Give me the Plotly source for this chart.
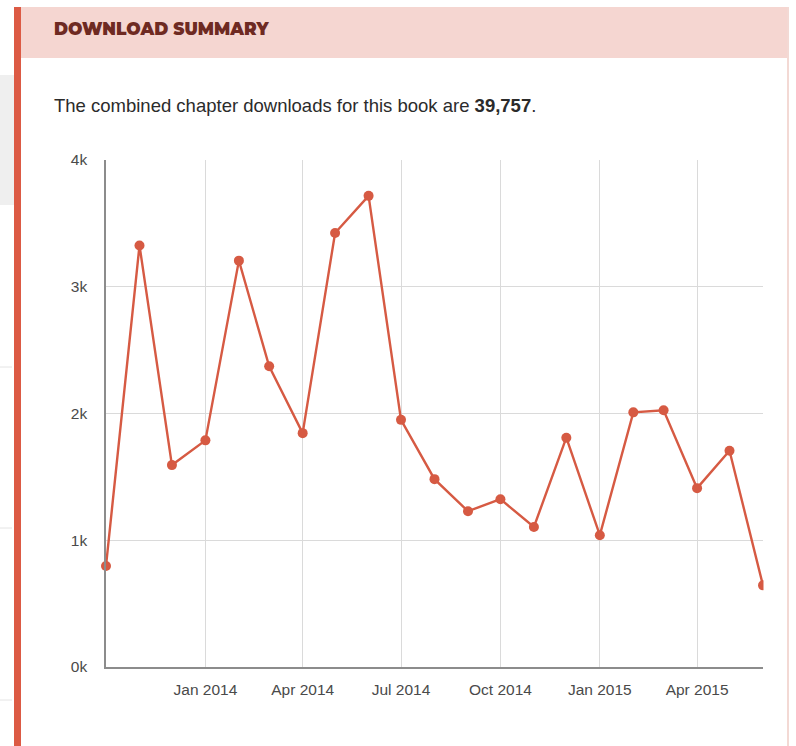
import plotly.graph_objects as go

# ---- data ----
months = ["2013-10-01", "2013-11-01", "2013-12-01", "2014-01-01", "2014-02-01", "2014-03-01",
          "2014-04-01", "2014-05-01", "2014-06-01", "2014-07-01", "2014-08-01", "2014-09-01",
          "2014-10-01", "2014-11-01", "2014-12-01", "2015-01-01", "2015-02-01", "2015-03-01",
          "2015-04-01", "2015-05-01", "2015-06-01"]
downloads = [797, 3326, 1593, 1788, 3206, 2373, 1845, 3424, 3717, 1950, 1482, 1229,
             1324, 1105, 1809, 1040, 2009, 2025, 1411, 1706, 644]
x_tick_vals = ["2014-01-01", "2014-04-01", "2014-07-01", "2014-10-01", "2015-01-01", "2015-04-01"]
x_tick_text = ["Jan 2014", "Apr 2014", "Jul 2014", "Oct 2014", "Jan 2015", "Apr 2015"]
y_tick_vals = [0, 1000, 2000, 3000, 4000]
y_tick_text = ["0k", "1k", "2k", "3k", "4k"]
header_title = "DOWNLOAD SUMMARY"
total_text = "The combined chapter downloads for this book are <b>39,757</b>."

W, H = 796, 746
L, R, T, B = 106, 763, 160, 667


def px(x):
    return (x - L) / (R - L)


def py(y):
    return (B - y) / (B - T)


LINE = "#d65a43"
FONT = "Liberation Sans, Arial, Helvetica, sans-serif"

fig = go.Figure()
fig.add_trace(go.Scatter(
    x=months, y=downloads, mode="lines+markers",
    line=dict(color=LINE, width=2.4),
    marker=dict(color=LINE, size=10),
    cliponaxis=False, hoverinfo="x+y", showlegend=False,
))

shapes = [
    # left grey page block
    dict(type="rect", xref="paper", yref="paper", x0=px(0), x1=px(14), y0=py(205), y1=py(75),
         fillcolor="#efefef", line_width=0, layer="below"),
    # faint left separators
    *[dict(type="line", xref="paper", yref="paper", x0=px(0), x1=px(12), y0=py(yy), y1=py(yy),
           line=dict(color="#e4e4e4", width=1), layer="below") for yy in (367, 528, 700)],
    # header band
    dict(type="rect", xref="paper", yref="paper", x0=px(21), x1=px(787), y0=py(58), y1=py(7),
         fillcolor="#f5d6d1", line_width=0, layer="below"),
    # red left border
    dict(type="rect", xref="paper", yref="paper", x0=px(14), x1=px(21), y0=py(746), y1=py(7),
         fillcolor="#dc5a44", line_width=0, layer="below"),
    # mask for clipped last marker
    dict(type="rect", xref="paper", yref="paper", x0=px(763.5), x1=px(786), y0=py(740), y1=py(150),
         fillcolor="white", line_width=0, layer="above"),
    # faint right border
    dict(type="line", xref="paper", yref="paper", x0=px(788), x1=px(788), y0=py(746), y1=py(7),
         line=dict(color="#f3d9d4", width=2), layer="below"),
]

annotations = [
    dict(text=header_title, xref="paper", yref="paper", x=px(52), y=py(29),
         xanchor="left", yanchor="middle", showarrow=False,
         font=dict(family="Montserrat, Lato, sans-serif", size=17, color="#6e2a22", weight=900)),
    dict(text=total_text, xref="paper", yref="paper", x=px(52), y=py(106),
         xanchor="left", yanchor="middle", showarrow=False,
         font=dict(family=FONT, size=18.5, color="#2b2b2b")),
]

fig.update_layout(
    width=W, height=H,
    margin=dict(l=L, r=W - R, t=T, b=H - B),
    paper_bgcolor="white", plot_bgcolor="white",
    shapes=shapes, annotations=annotations,
    xaxis=dict(
        type="date", range=["2013-10-01", "2015-06-01"],
        tickvals=x_tick_vals, ticktext=x_tick_text,
        showgrid=True, gridcolor="#dadada", gridwidth=1,
        showline=True, linecolor="#8c8c8c", linewidth=1.5,
        ticks="outside", ticklen=8, tickcolor="rgba(0,0,0,0)",
        tickfont=dict(family=FONT, size=15.5, color="#4a4a4a"),
        zeroline=False, fixedrange=True,
    ),
    yaxis=dict(
        range=[0, 4000], tickvals=y_tick_vals, ticktext=y_tick_text,
        showgrid=True, gridcolor="#dadada", gridwidth=1,
        showline=True, linecolor="#8c8c8c", linewidth=1.5,
        ticks="outside", ticklen=14, tickcolor="rgba(0,0,0,0)",
        tickfont=dict(family=FONT, size=15.5, color="#4a4a4a"),
        zeroline=False, fixedrange=True,
    ),
)

fig.write_html("out.html", config={"displayModeBar": False},
               post_script="document.body.style.margin='0';")
